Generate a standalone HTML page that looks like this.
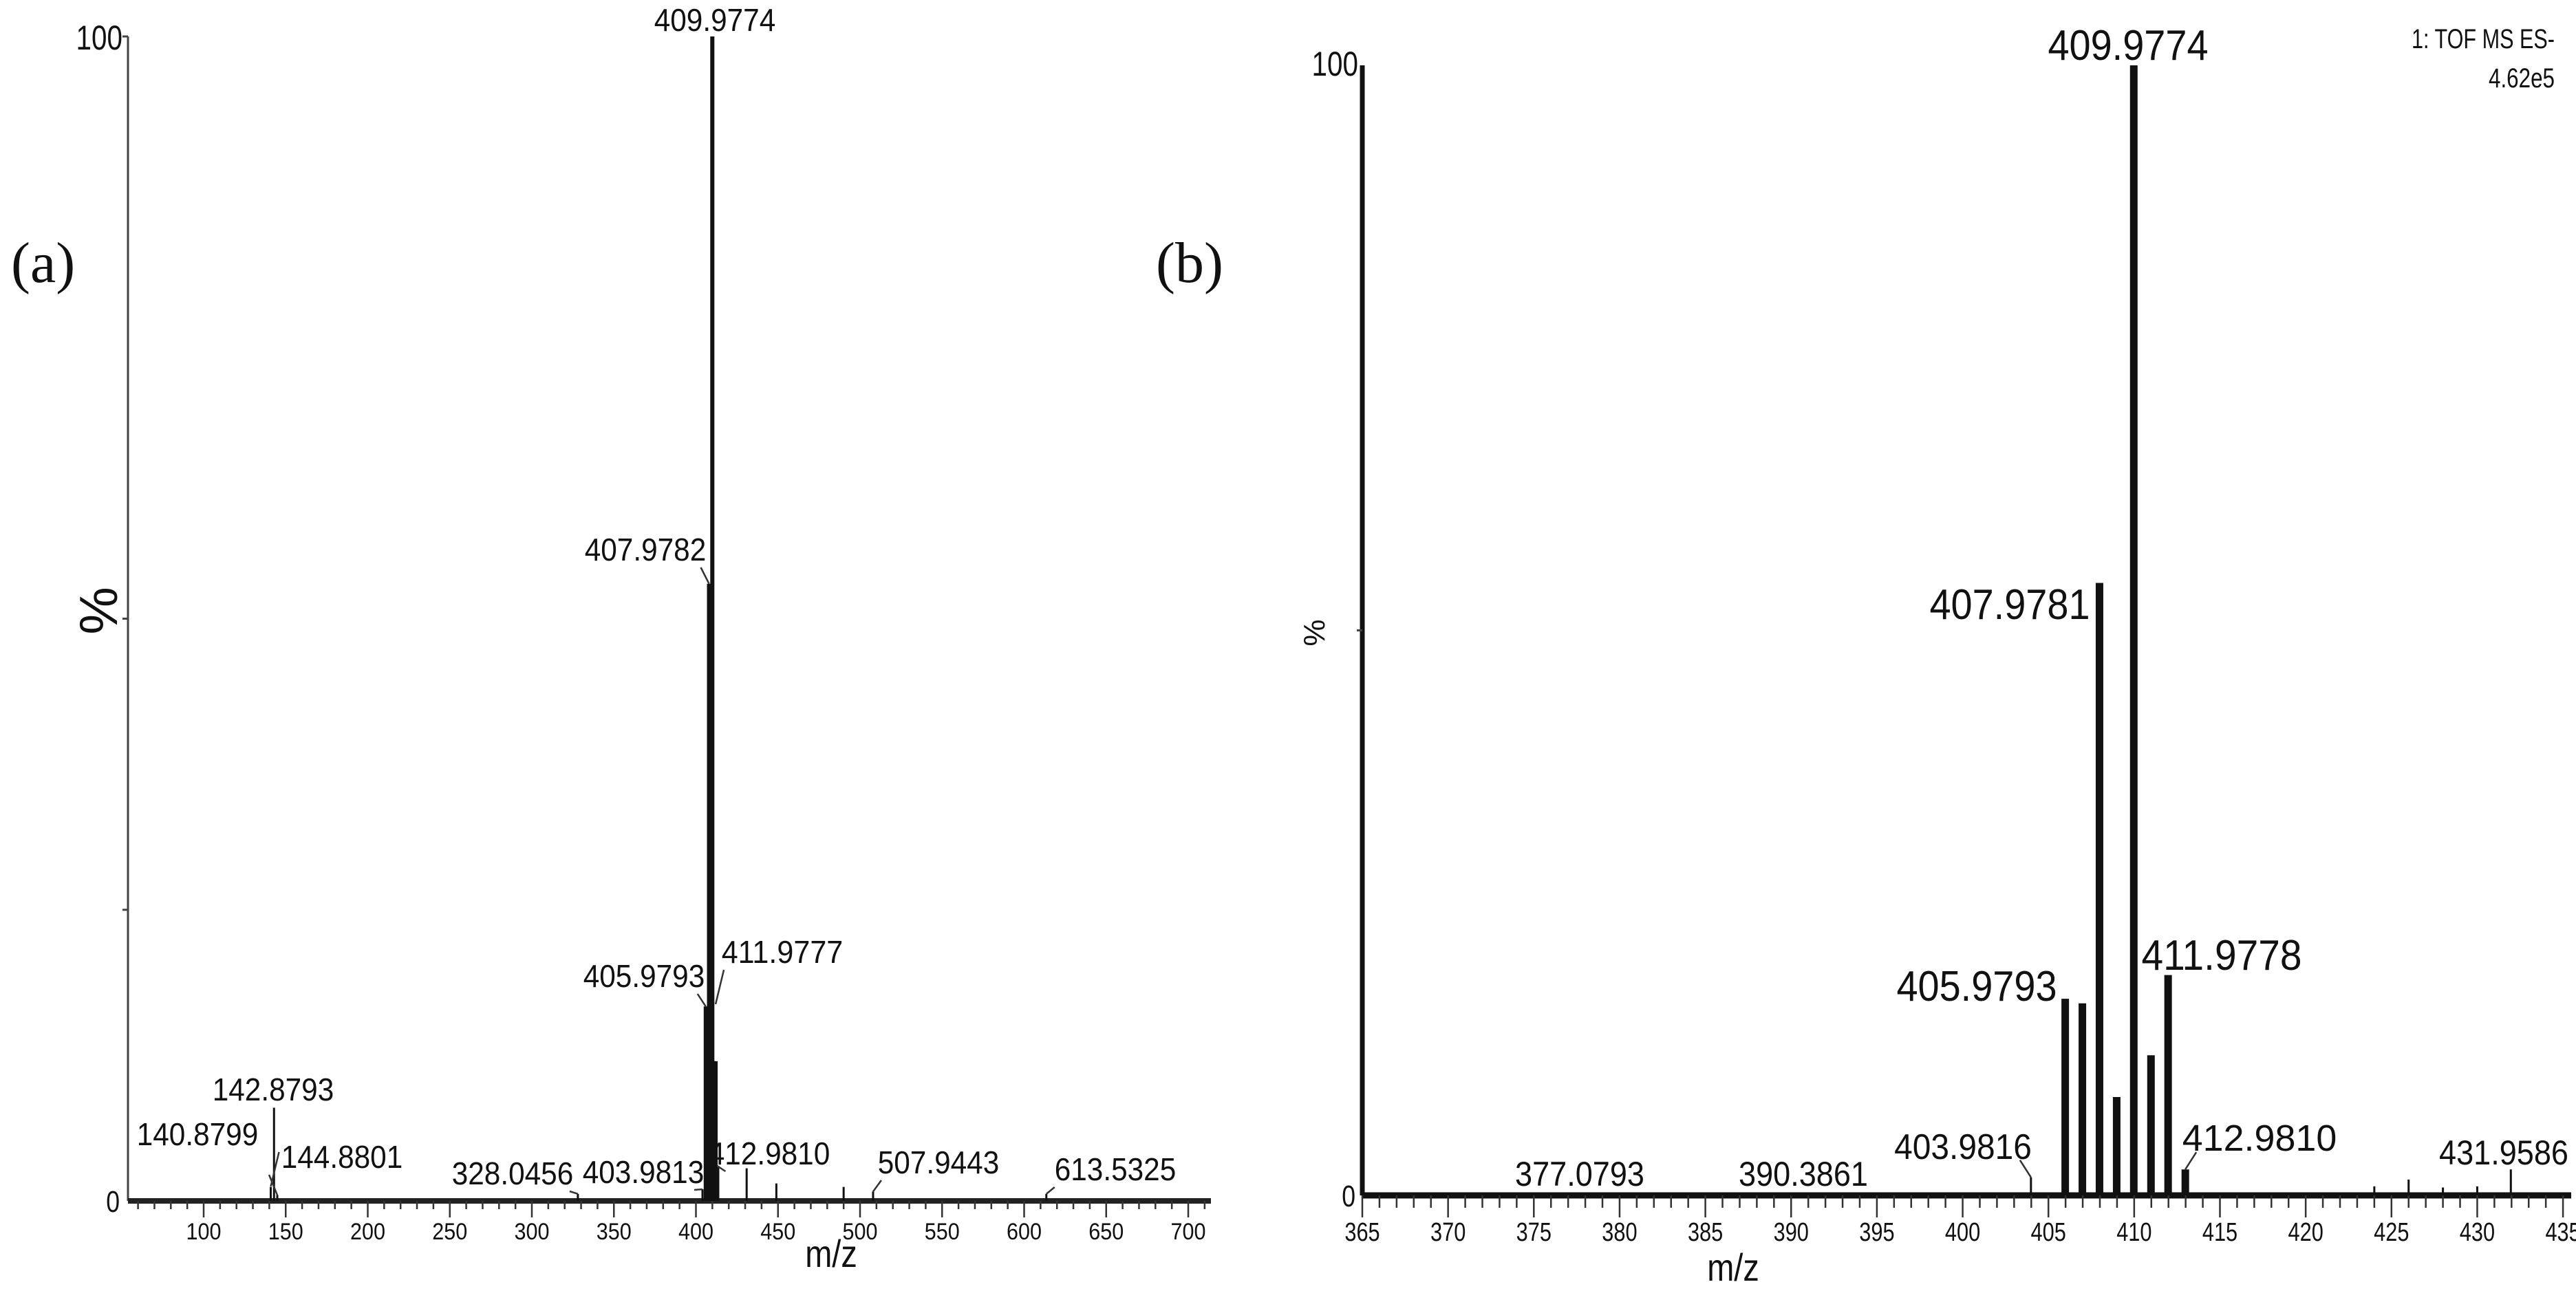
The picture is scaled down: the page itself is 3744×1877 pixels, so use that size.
<!DOCTYPE html>
<html><head><meta charset="utf-8"><style>
html,body{margin:0;padding:0;background:#fff;}
svg{display:block;}
text{font-family:"Liberation Sans",sans-serif;fill:#111;}
</style></head>
<body>
<svg id="fig" width="3744" height="1877" viewBox="0 0 3744 1877" xmlns="http://www.w3.org/2000/svg">
<rect width="3744" height="1877" fill="#fff"/>
</svg>
<script>
// ---- Panel (a) data ----
const aMz = [140.8799, 142.8793, 144.8801, 328.0456, 403.9813, 405.9793, 406.98, 407.9782, 408.98, 409.9774, 410.98, 411.9777, 412.9810, 430.9, 449.0, 490.0, 507.9443, 613.5325];
const aInt = [0.012, 0.08, 0.005, 0.006, 0.01, 0.167, 0.16, 0.53, 0.08, 1.0, 0.12, 0.12, 0.03, 0.028, 0.015, 0.012, 0.008, 0.006];
const aLabels = ["140.8799","142.8793","144.8801","328.0456","403.9813","405.9793","407.9782","409.9774","411.9777","412.9810","507.9443","613.5325"];
const aTicks = [100,150,200,250,300,350,400,450,500,550,600,650,700];
// ---- Panel (b) data ----
const bMz = [403.9816, 405.9793, 406.98, 407.9781, 408.98, 409.9774, 410.98, 411.9778, 412.9810, 424.0, 426.0, 428.0, 430.0, 431.9586];
const bInt = [0.016, 0.174, 0.17, 0.542, 0.087, 1.0, 0.124, 0.195, 0.023, 0.008, 0.014, 0.007, 0.008, 0.023];
const bLabels = ["377.0793","390.3861","403.9816","405.9793","407.9781","409.9774","411.9778","412.9810","431.9586"];
const bTicks = [365,370,375,380,385,390,395,400,405,410,415,420,425,430,435];

const NS="http://www.w3.org/2000/svg";
const svg=document.getElementById('fig');
function el(tag,attrs,parent){const e=document.createElementNS(NS,tag);for(const k in attrs)e.setAttribute(k,attrs[k]);(parent||svg).appendChild(e);return e;}
function txt(s,x,y,size,anchor,parent,f){const t=el('text',{x:x,y:y,'font-size':size,'text-anchor':anchor||'middle'},parent);t.textContent=s;if(f){t.setAttribute('textLength',(s.length*size*f).toFixed(1));t.setAttribute('lengthAdjust','spacingAndGlyphs');}return t;}

// ---------- Panel A ----------
const gA=el('g',{});


const A={x0:186,x1:1760,yTop:53,yBase:1746,mz0:100,px0:296,scale:2.385};
const axA=m=>A.px0+(m-A.mz0)*A.scale;
const ayA=v=>A.yBase-v*(A.yBase-A.yTop);
let l=el('line',{x1:A.x0,y1:A.yTop,x2:A.x0,y2:A.yBase,stroke:'#444','stroke-width':3},gA);

l=el('line',{x1:A.x0,y1:A.yBase,x2:A.x1,y2:A.yBase,stroke:'#222','stroke-width':8},gA);

el('line',{x1:A.x0-8,y1:A.yTop,x2:A.x0,y2:A.yTop,stroke:'#444','stroke-width':3},gA);
el('line',{x1:A.x0-8,y1:ayA(0.5),x2:A.x0,y2:ayA(0.5),stroke:'#444','stroke-width':3},gA);
el('line',{x1:A.x0-8,y1:ayA(0.25),x2:A.x0,y2:ayA(0.25),stroke:'#444','stroke-width':3},gA);
for(let m=60;m<=710;m+=10){const major=m%50===0;el('line',{x1:axA(m),y1:A.yBase,x2:axA(m),y2:A.yBase+(major?24:12),stroke:'#333','stroke-width':2.5},gA);}
aTicks.forEach(t=>{const e=txt(String(t),axA(t),A.yBase+56,34,'middle',gA,0.5);});
let t=txt('100',A.x0-8,72,50,'end',gA,0.45);
t=txt('0',A.x0-12,A.yBase+16,44,'end',gA,0.45);
aMz.forEach((m,i)=>{const b=el('line',{x1:axA(m),y1:A.yBase,x2:axA(m),y2:ayA(aInt[i]),stroke:'#111','stroke-width':m>405&&m<413?6:3},gA);
});
const aLabPos={"140.8799":[287,1665,140.8799,-1],"142.8793":[397,1600,0,0],"144.8801":[497,1698,144.8801,1],"328.0456":[745,1722,328.0456,1],"403.9813":[935,1720,403.9813,1],"405.9793":[936,1435,405.9793,1],"407.9782":[938,815,407.9782,1],"409.9774":[1039,45,0,0],"411.9777":[1137,1400,411.9777,-1],"412.9810":[1118,1693,412.981,-1],"507.9443":[1364,1706,507.9443,-1],"613.5325":[1621,1716,613.5325,-1]};
aLabels.forEach(s=>{const p=aLabPos[s];const e=txt(s,p[0],p[1],46,'middle',gA,0.48);
 if(p[2]){const px=axA(p[2]);const idx=aMz.indexOf(p[2]);const top=idx>=0?ayA(aInt[idx]):A.yBase-10;
 el('line',{x1:px-p[3]*12,y1:p[1]+10,x2:px,y2:Math.min(top,p[1]+60),stroke:'#333','stroke-width':2.5},gA);}});
t=txt('m/z',1208,1842,56,'middle',gA,0.45);
t=el('text',{x:0,y:0,'font-size':78,'text-anchor':'middle',transform:'translate(170,888) rotate(-90)'},gA);t.textContent='%';

t=el('text',{x:16,y:410,'font-size':84,style:'font-family:"Liberation Serif",serif'},gA);t.textContent='(a)';


// ---------- Panel B ----------
const gB=el('g',{});


const B={x0:1980,x1:3737,yTop:95,yBase:1738,mz0:365,px0:1980,scale:24.93};
const axB=m=>B.px0+(m-B.mz0)*B.scale;
const ayB=v=>B.yBase-v*(B.yBase-B.yTop);
l=el('line',{x1:B.x0,y1:B.yTop,x2:B.x0,y2:B.yBase,stroke:'#111','stroke-width':7},gB);

l=el('line',{x1:B.x0,y1:B.yBase,x2:B.x1,y2:B.yBase,stroke:'#111','stroke-width':9},gB);

el('line',{x1:B.x0-8,y1:ayB(0.5),x2:B.x0,y2:ayB(0.5),stroke:'#444','stroke-width':3},gB);
for(let m=365;m<=436;m+=1){const major=m%5===0;el('line',{x1:axB(m),y1:B.yBase,x2:axB(m),y2:B.yBase+(major?32:18),stroke:'#333','stroke-width':2.5},gB);}
bTicks.forEach(v=>{const e=txt(String(v),axB(v),B.yBase+66,38,'middle',gB,0.45);});
t=txt('100',B.x0-6,110,50,'end',gB,0.45);
t=txt('0',B.x0-10,B.yBase+16,44,'end',gB,0.45);
bMz.forEach((m,i)=>{const b=el('line',{x1:axB(m),y1:B.yBase,x2:axB(m),y2:ayB(bInt[i]),stroke:'#111','stroke-width':m>405&&m<413?11:3},gB);
});
const bLabPos={"377.0793":[2296,1724,50,0.47],"390.3861":[2621,1724,50,0.47],"403.9816":[2853,1685,52,0.48],"405.9793":[2873,1455,62,0.47],"407.9781":[2921,900,62,0.47],"409.9774":[3093,87,62,0.47],"411.9778":[3229,1410,62,0.47],"412.9810":[3284,1673,54,0.52],"431.9586":[3639,1693,50,0.47]};
bLabels.forEach(s=>{const p=bLabPos[s];const e=txt(s,p[0],p[1],p[2],'middle',gB,p[3]);});
// leader lines to peaks
[[403.9816,-1],[412.9810,1]].forEach(d=>{const px=axB(d[0]);const top=ayB(bInt[bMz.indexOf(d[0])]);
 el('line',{x1:px+d[1]*16,y1:top-25,x2:px,y2:top,stroke:'#333','stroke-width':2.5},gB);});
t=txt('1: TOF MS ES-',3713,70,40,'end',gB,0.4);
t=txt('4.62e5',3713,127,40,'end',gB,0.4);
t=txt('m/z',2519,1862,56,'middle',gB,0.45);
t=el('text',{x:0,y:0,'font-size':44,'text-anchor':'middle',transform:'translate(1925,920) rotate(-90)'},gB);t.textContent='%';

t=el('text',{x:1680,y:410,'font-size':84,style:'font-family:"Liberation Serif",serif'},gB);t.textContent='(b)';

</script>
</body></html>
